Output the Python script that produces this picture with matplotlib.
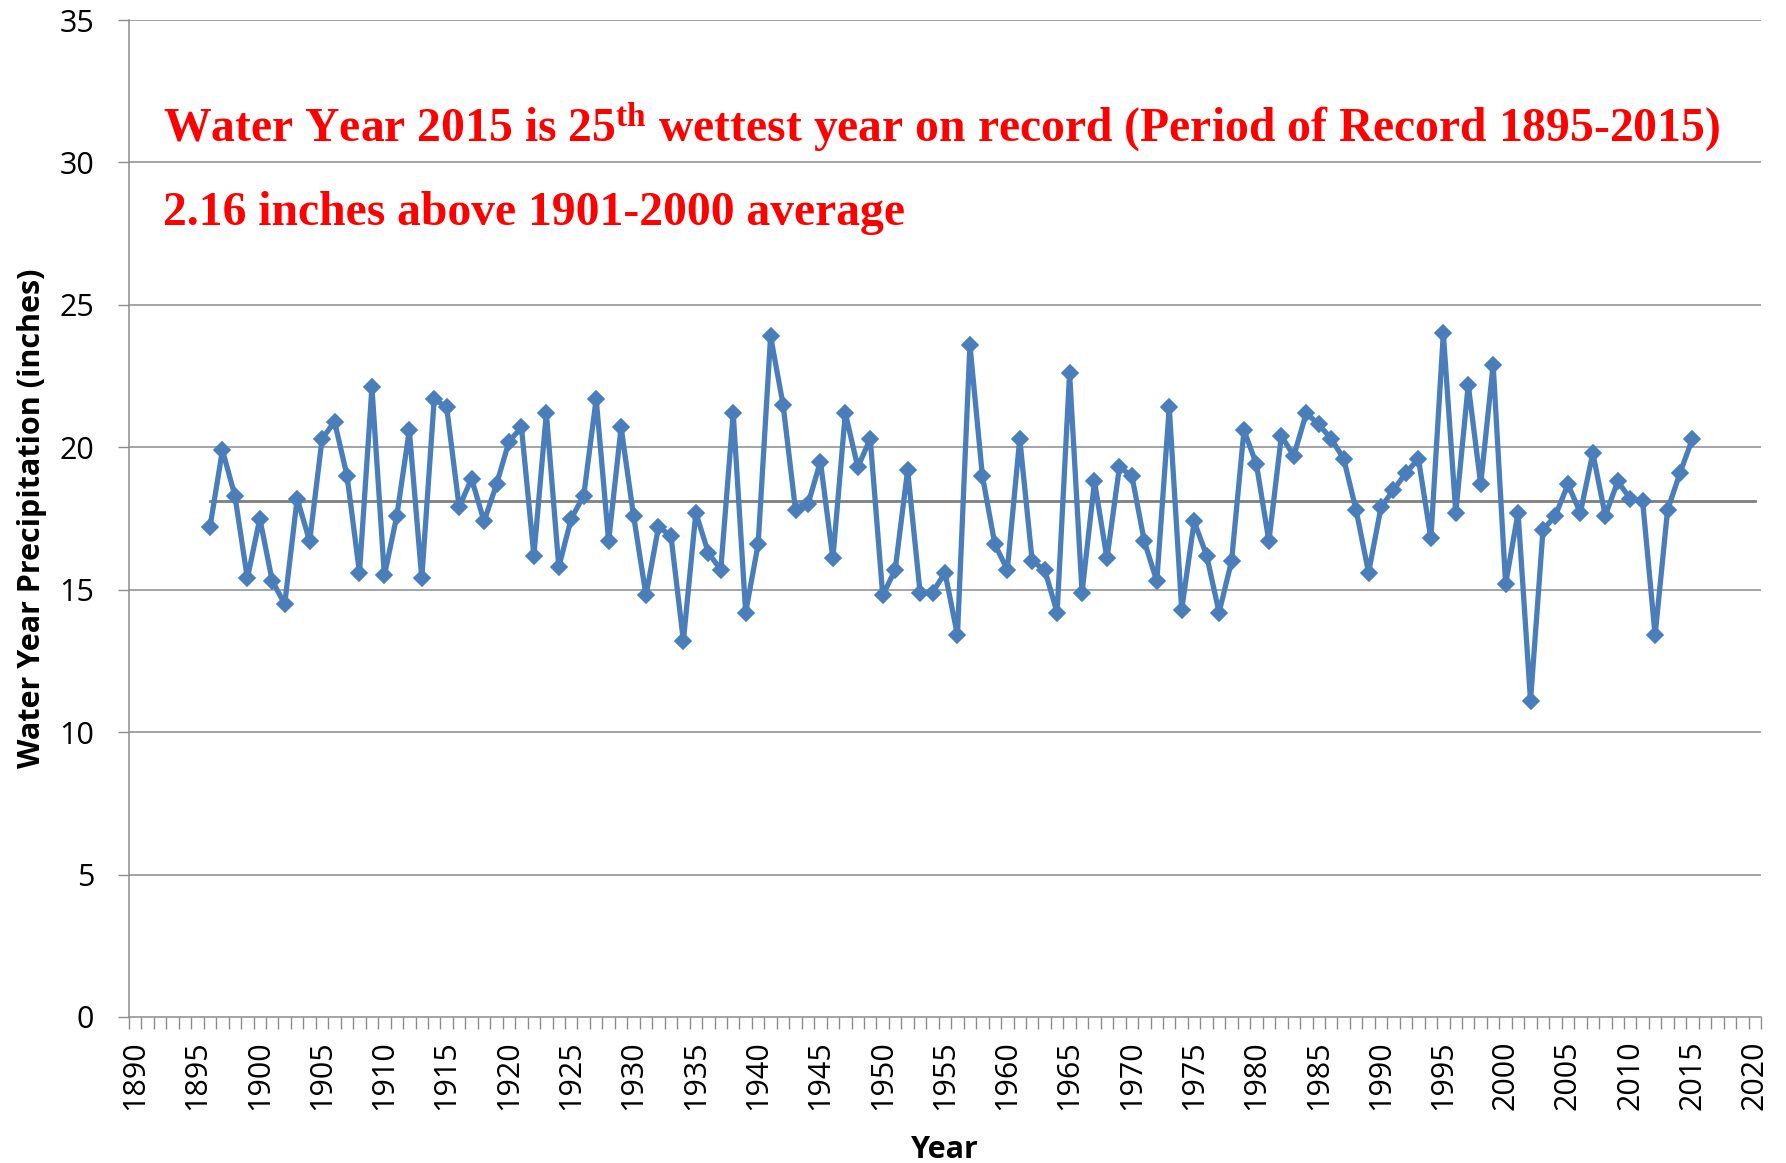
import matplotlib
matplotlib.use("Agg")
import matplotlib.pyplot as plt
import numpy as np

years = list(range(1896, 2016))
precip = [
    17.2, 19.9, 18.3, 15.4, 17.5, 15.3, 14.5, 18.2, 16.7, 20.3,   # 1896-1905
    20.9, 19.0, 15.6, 22.1, 15.5, 17.6, 20.6, 15.4, 21.7, 21.4,   # 1906-1915
    17.9, 18.9, 17.4, 18.7, 20.2, 20.7, 16.2, 21.2, 15.8, 17.5,   # 1916-1925
    18.3, 21.7, 16.7, 20.7, 17.6, 14.8, 17.2, 16.9, 13.2, 17.7,   # 1926-1935
    16.3, 15.7, 21.2, 14.2, 16.6, 23.9, 21.5, 17.8, 18.0, 19.5,   # 1936-1945
    16.1, 21.2, 19.3, 20.3, 14.8, 15.7, 19.2, 14.9, 14.9, 15.6,   # 1946-1955
    13.4, 23.6, 19.0, 16.6, 15.7, 20.3, 16.0, 15.7, 14.2, 22.6,   # 1956-1965
    14.9, 18.8, 16.1, 19.3, 19.0, 16.7, 15.3, 21.4, 14.3, 17.4,   # 1966-1975
    16.2, 14.2, 16.0, 20.6, 19.4, 16.7, 20.4, 19.7, 21.2, 20.8,   # 1976-1985
    20.3, 19.6, 17.8, 15.6, 17.9, 18.5, 19.1, 19.6, 16.8, 24.0,   # 1986-1995
    17.7, 22.2, 18.7, 22.9, 15.2, 17.7, 11.1, 17.1, 17.6, 18.7,   # 1996-2005
    17.7, 19.8, 17.6, 18.8, 18.2, 18.1, 13.4, 17.8, 19.1, 20.3,   # 2006-2015
]
avg_years = [1896, 2020]
avg_value = [18.1, 18.1]

first_year, last_year = 1890, 2020
x_major = list(range(first_year, last_year + 1, 5))
y_major = list(range(0, 36, 5))

line1 = r"Water Year 2015 is 25$^{\mathrm{th}}$ wettest year on record (Period of Record 1895-2015)"
line2 = "2.16 inches above 1901-2000 average"

plt.rcParams['mathtext.fontset'] = 'custom'
plt.rcParams['mathtext.rm'] = 'Liberation Serif:bold'
plt.rcParams['mathtext.it'] = 'Liberation Serif:bold'
plt.rcParams['mathtext.bf'] = 'Liberation Serif:bold'

fig = plt.figure(figsize=(17.86, 11.63), dpi=100)
ax = fig.add_axes([129/1786, 1 - 1017/1163, (1761-129)/1786, (1017-20)/1163])

grid_c = '#8c8c8c'
# category-style axis: each year occupies one slot, points centred in slot
ax.set_xlim(first_year - 0.5, last_year + 0.5)
ax.set_ylim(0, 35)
ax.set_yticks(y_major)
for v in y_major[1:]:
    ax.axhline(v, color=grid_c, lw=1.1, zorder=1)

ax.plot(avg_years, avg_value, color='#7f7f7f', lw=2.0, zorder=2)
ax.plot(years, precip, color='#4a7ebb', lw=3.8, marker='D', ms=7.8,
        mec='#4a7ebb', mfc='#4a7ebb', mew=1.2, zorder=3)

for s in ['top', 'right']:
    ax.spines[s].set_visible(False)
for s in ['left', 'bottom']:
    ax.spines[s].set_color(grid_c)
    ax.spines[s].set_linewidth(1.1)

ax.set_xticks(x_major)
ax.set_xticks(np.arange(first_year - 0.5, last_year + 1.0, 1.0), minor=True)
ax.tick_params(axis='x', which='major', length=0, pad=17, labelrotation=90)
ax.tick_params(axis='x', which='minor', direction='out', length=8.5, width=1.0,
               color=grid_c)
ax.tick_params(axis='y', which='both', direction='out', length=8, width=1.0,
               color=grid_c, pad=17)
for lab in ax.get_xticklabels() + ax.get_yticklabels():
    lab.set_fontfamily('Open Sans')
    lab.set_fontsize(22)
    lab.set_color('black')

ax.set_xlabel('Year', fontfamily='Open Sans', fontweight='bold', fontsize=22, labelpad=18)
ax.set_ylabel('Water Year Precipitation (inches)', fontfamily='Open Sans',
              fontweight='bold', fontsize=22, labelpad=9)

ax.text(0.0208, 0.8786, line1, transform=ax.transAxes, color='#ff0000',
        fontfamily='Liberation Serif', fontweight='bold', fontsize=34.3,
        va='baseline', ha='left', zorder=4)
ax.text(0.0208, 0.7939, line2, transform=ax.transAxes, color='#ff0000',
        fontfamily='Liberation Serif', fontweight='bold', fontsize=34.3,
        va='baseline', ha='left', zorder=4)

fig.savefig('out.png', dpi=100)
